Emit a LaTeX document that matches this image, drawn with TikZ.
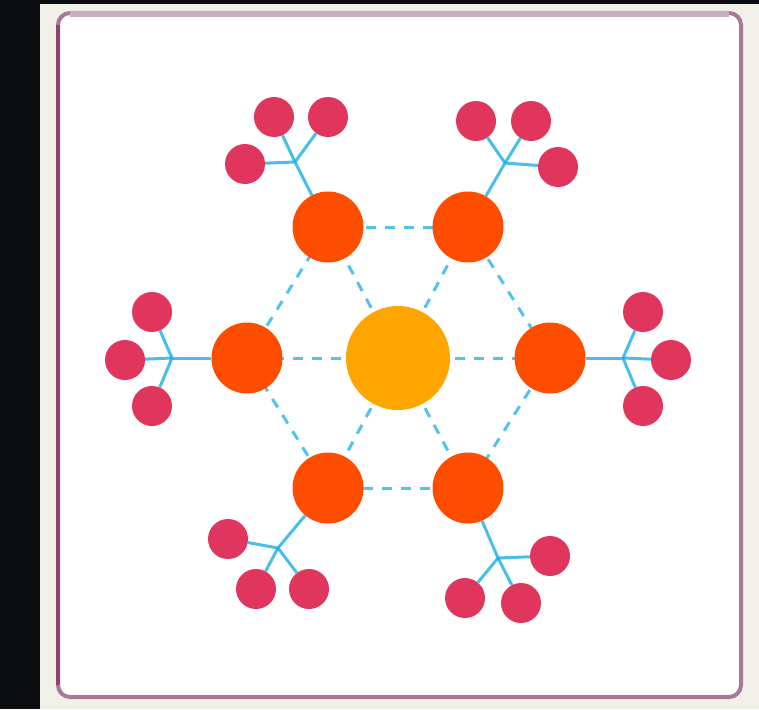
\documentclass[tikz,border=0pt]{standalone}
\begin{document}
\begin{tikzpicture}[x=1pt,y=-1pt,
  hubline/.style={draw=lnblue, line width=3pt, opacity=0.8},
  dashline/.style={draw=lnblue, line width=3pt, opacity=0.75, dash pattern=on 10pt off 9pt},
  center/.style={circle, fill=corecol, minimum size=104pt, inner sep=0pt},
  mid/.style={circle, fill=midcol, minimum size=71pt, inner sep=0pt},
  leaf/.style={circle, fill=leafcol, minimum size=40pt, inner sep=0pt}]
\definecolor{lnblue}{HTML}{1AAEE8}
\definecolor{corecol}{HTML}{FFA500}
\definecolor{midcol}{HTML}{FF4D00}
\definecolor{leafcol}{HTML}{E0365E}
\definecolor{darkbg}{HTML}{0A0C0F}
\definecolor{creambg}{HTML}{F1F0E9}
\definecolor{frameA}{HTML}{A87896}
\definecolor{frameL}{HTML}{8E4472}
\definecolor{frameT}{HTML}{C8AFBD}
\useasboundingbox (0,0) rectangle (759,709);
\fill[darkbg] (0,0) rectangle (759,709);
\fill[creambg] (40,4) rectangle (759,709);
\filldraw[fill=white, draw=frameA, line width=4pt, rounded corners=12pt] (58,13) rectangle (741,697);
\draw[frameL, line width=4pt] (58,25) -- (58,685);
\draw[frameT, line width=6pt] (70,14) -- (729,14);

% hubs
\coordinate (h1) at (295,162);
\coordinate (h2) at (505,163);
\coordinate (h3) at (172,358);
\coordinate (h4) at (623,358);
\coordinate (h5) at (278,548);
\coordinate (h6) at (498,558);

% node positions
\path (398,358) coordinate (pc);
\path (328,227) coordinate (p1);
\path (468,227) coordinate (p2);
\path (247,358) coordinate (p3);
\path (550,358) coordinate (p4);
\path (328,488) coordinate (p5);
\path (468,488) coordinate (p6);

% dashed network
\draw[dashline] (p1) -- (p2);
\draw[dashline] (p2) -- (p4);
\draw[dashline] (p4) -- (p6);
\draw[dashline] (p6) -- (p5);
\draw[dashline] (p5) -- (p3);
\draw[dashline] (p3) -- (p1);
\foreach \i in {1,...,6} \draw[dashline] (pc) -- (p\i);

% leaves
\node[leaf] (a1) at (274,117) {};
\node[leaf] (b1) at (328,117) {};
\node[leaf] (c1) at (245,164) {};
\node[leaf] (a2) at (476,121) {};
\node[leaf] (b2) at (531,121) {};
\node[leaf] (c2) at (558,167) {};
\node[leaf] (a3) at (152,312) {};
\node[leaf] (b3) at (125,360) {};
\node[leaf] (c3) at (152,406) {};
\node[leaf] (a4) at (643,312) {};
\node[leaf] (b4) at (671,360) {};
\node[leaf] (c4) at (643,406) {};
\node[leaf] (a5) at (228,539) {};
\node[leaf] (b5) at (256,589) {};
\node[leaf] (c5) at (309,589) {};
\node[leaf] (a6) at (550,556) {};
\node[leaf] (b6) at (465,598) {};
\node[leaf] (c6) at (521,603) {};

% main nodes
\node[center] (c) at (pc) {};
\node[mid] (o1) at (p1) {};
\node[mid] (o2) at (p2) {};
\node[mid] (o3) at (p3) {};
\node[mid] (o4) at (p4) {};
\node[mid] (o5) at (p5) {};
\node[mid] (o6) at (p6) {};

% hub connectors
\foreach \i in {1,...,6} {
  \draw[hubline] (h\i) -- (o\i);
  \draw[hubline] (h\i) -- (a\i);
  \draw[hubline] (h\i) -- (b\i);
  \draw[hubline] (h\i) -- (c\i);
}
\end{tikzpicture}
\end{document}
